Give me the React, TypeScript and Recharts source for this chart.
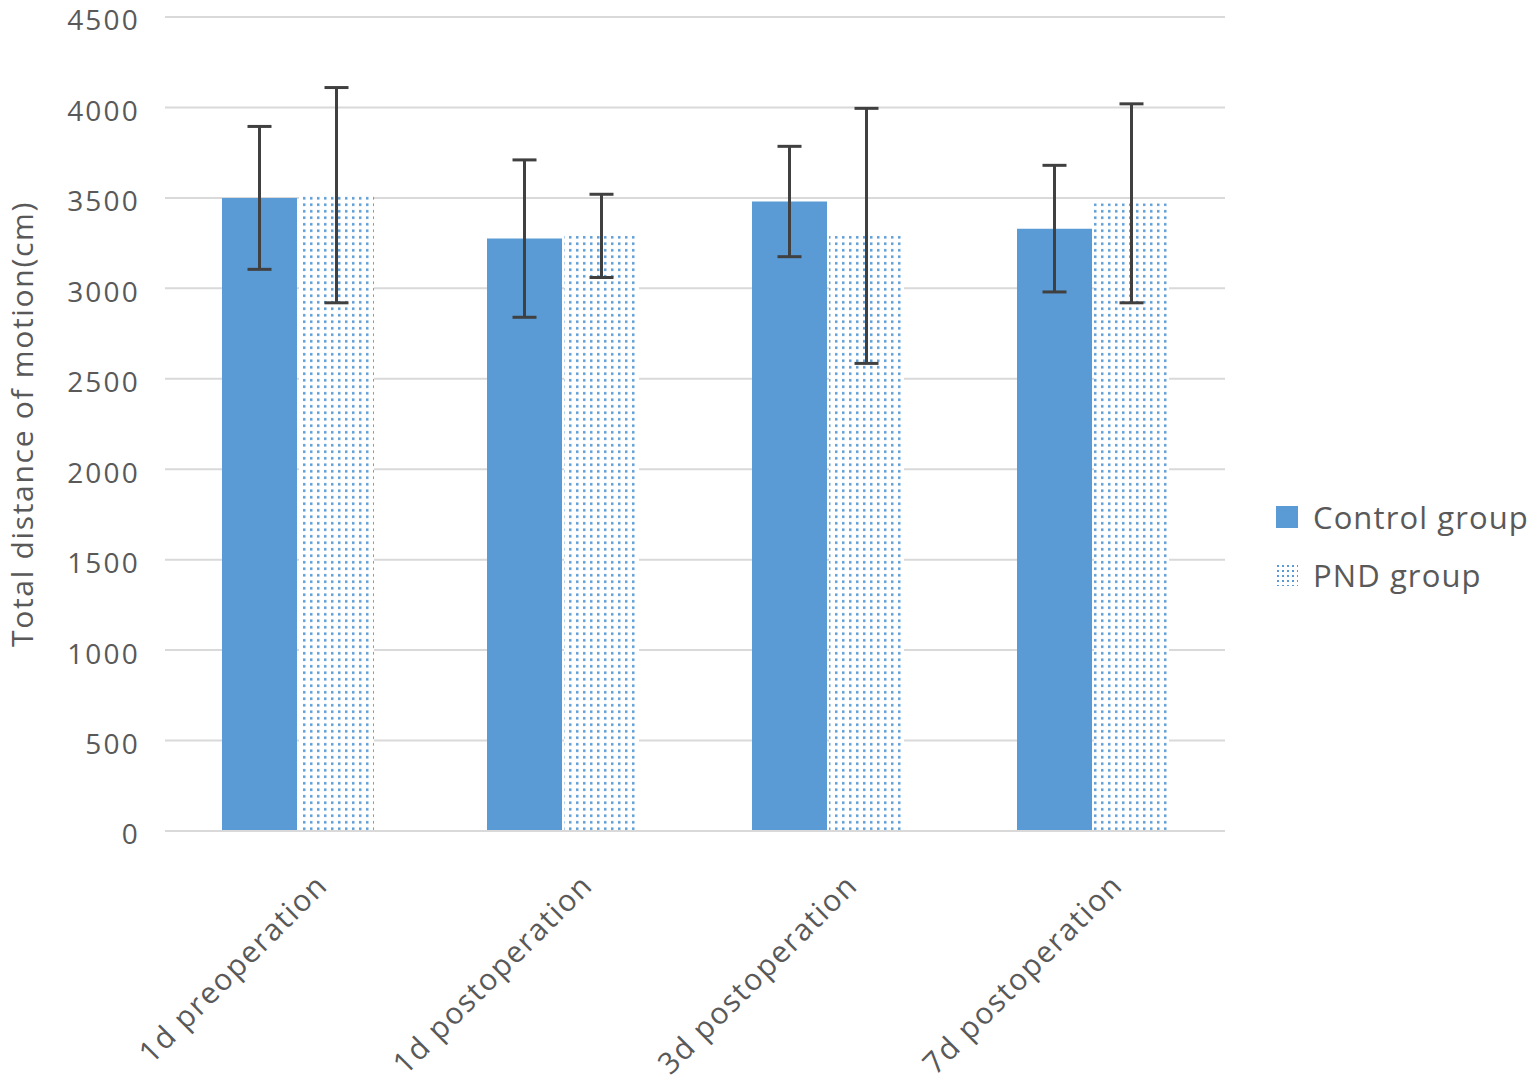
import React from 'react';
import {
  BarChart,
  Bar,
  XAxis,
  YAxis,
  CartesianGrid,
  Legend,
  ErrorBar,
} from 'recharts';

const categories = ['1d preoperation', '1d postoperation', '3d postoperation', '7d postoperation'];
const controlValues = [3500, 3275, 3480, 3330];
const controlErrors = [395, 435, 305, 350];
const pndValues = [3515, 3290, 3290, 3470];
const pndErrors = [595, 230, 705, 550];
const yTicks = [0, 500, 1000, 1500, 2000, 2500, 3000, 3500, 4000, 4500];

const data = categories.map((name, i) => ({
  name,
  control: controlValues[i],
  controlErr: controlErrors[i],
  pnd: pndValues[i],
  pndErr: pndErrors[i],
}));

const FONT = '"Open Sans", "Noto Sans", sans-serif';
const BLUE = '#5b9bd5';
const TEXT = '#595959';

const XTick = (props: any) => {
  const { x, y, payload } = props;
  return (
    <text
      transform={`translate(${x + 32}, ${y + 48}) rotate(-45)`}
      textAnchor="end"
      fontFamily={FONT}
      fontSize={30}
      letterSpacing={1.6}
      fill={TEXT}
    >
      {payload.value}
    </text>
  );
};

const LegendBox = () => (
  <div style={{ fontFamily: FONT, fontSize: 31, color: TEXT, letterSpacing: 1.1 }}>
    <div style={{ display: 'flex', alignItems: 'center', height: 58 }}>
      <svg width={22} height={22} style={{ marginRight: 15 }}>
        <rect width={22} height={22} fill={BLUE} />
      </svg>
      Control group
    </div>
    <div style={{ display: 'flex', alignItems: 'center', height: 58 }}>
      <svg width={22} height={22} style={{ marginRight: 15 }}>
        <rect width={22} height={22} fill="url(#dotsLegend)" />
        <defs>
          <pattern id="dotsLegend" width={5} height={5} patternUnits="userSpaceOnUse">
            <rect width={5} height={5} fill="#fff" />
            <rect x={1} y={1} width={2} height={2} fill={BLUE} />
          </pattern>
        </defs>
      </svg>
      PND group
    </div>
  </div>
);

export default function App() {
  return (
    <div style={{ position: 'absolute', left: 0, top: 0, width: 1534, height: 1087, background: '#fff' }}>
      <BarChart
        width={1534}
        height={1087}
        data={data}
        margin={{ top: 17, right: 51, left: 0, bottom: 0 }}
        barSize={75}
        barGap={2}
      >
        <defs>
          <pattern id="dots" width={7} height={6.5} patternUnits="userSpaceOnUse">
            <rect width={7} height={6.5} fill="#fff" />
            <rect x={2} y={2} width={2.5} height={2.5} fill={BLUE} />
          </pattern>
        </defs>
        <CartesianGrid vertical={false} stroke="#d9d9d9" strokeWidth={2} />
        <XAxis
          dataKey="name"
          height={256}
          axisLine={{ stroke: '#d9d9d9', strokeWidth: 2 }}
          tickLine={false}
          tick={<XTick />}
          interval={0}
        />
        <YAxis
          width={165}
          domain={[0, 4500]}
          ticks={yTicks}
          axisLine={false}
          tickLine={false}
          tickMargin={19}
          tick={{ fontFamily: FONT, fontSize: 28, fill: TEXT, letterSpacing: 2.2, dy: 3.5 }}
          label={{
            content: ({ viewBox }: any) => {
              const cy = viewBox.y + viewBox.height / 2;
              return (
                <text
                  x={25}
                  y={cy}
                  transform={`rotate(-90, 25, ${cy})`}
                  textAnchor="middle"
                  dominantBaseline="middle"
                  fontFamily={FONT}
                  fontSize={30}
                  letterSpacing={1.7}
                  fill={TEXT}
                >
                  Total distance of motion(cm)
                </text>
              );
            },
          }}
        />
        <Legend
          layout="vertical"
          align="right"
          verticalAlign="middle"
          content={<LegendBox />}
          wrapperStyle={{ left: 1276, top: 488, width: 258 }}
        />
        <Bar dataKey="control" name="Control group" fill={BLUE} isAnimationActive={false}>
          <ErrorBar dataKey="controlErr" width={12} stroke="#404040" strokeWidth={3} />
        </Bar>
        <Bar dataKey="pnd" name="PND group" fill="url(#dots)" isAnimationActive={false}>
          <ErrorBar dataKey="pndErr" width={12} stroke="#404040" strokeWidth={3} />
        </Bar>
      </BarChart>
    </div>
  );
}
